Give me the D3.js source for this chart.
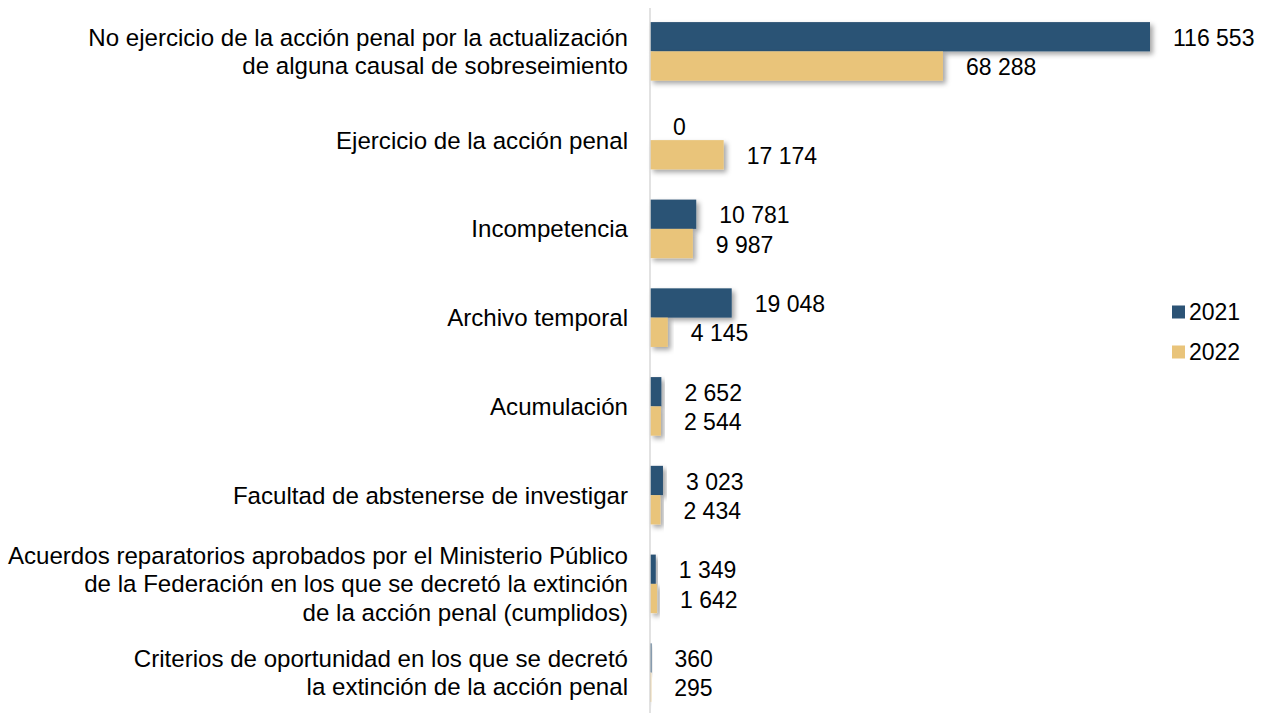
<!DOCTYPE html>
<html>
<head>
<meta charset="utf-8">
<script src="https://cdn.jsdelivr.net/npm/d3@7"></script>
<style>
  body { margin: 0; background: #fff; }
  text { font-family: "Liberation Sans", Arial, sans-serif; fill: #000; }
</style>
</head>
<body>
<div id="chart"></div>
<script>
var categories = [
    ["No ejercicio de la acción penal por la actualización", "de alguna causal de sobreseimiento"],
    ["Ejercicio de la acción penal"],
    ["Incompetencia"],
    ["Archivo temporal"],
    ["Acumulación"],
    ["Facultad de abstenerse de investigar"],
    ["Acuerdos reparatorios aprobados por el Ministerio Público", "de la Federación en los que se decretó la extinción", "de la acción penal (cumplidos)"],
    ["Criterios de oportunidad en los que se decretó", "la extinción de la acción penal"]
];
var series_names = ["2021", "2022"];
var values_2021 = [116553, 0, 10781, 19048, 2652, 3023, 1349, 360];
var values_2022 = [68288, 17174, 9987, 4145, 2544, 2434, 1642, 295];
var colors = ["#2C5375", "#E9C47A"];

function draw_chart() {
    const W = 1264, H = 713;
    const X0 = 650;
    const CAT_FONT = 24.1;
    const VAL_FONT = 23;

    var svg = d3.select("#chart").append("svg")
        .attr("width", W)
        .attr("height", H);

    var defs = svg.append("defs");
    defs.append("filter")
        .attr("id", "shadow")
        .attr("x", "-20%").attr("y", "-20%")
        .attr("width", "150%").attr("height", "160%")
        .append("feDropShadow")
        .attr("dx", 3).attr("dy", 3)
        .attr("stdDeviation", 2.5)
        .attr("flood-color", "#000")
        .attr("flood-opacity", 0.35);

    var y = d3.scaleBand()
        .domain(d3.range(categories.length))
        .range([7, 717])
        .paddingInner(0.34)
        .paddingOuter(0.17);

    var y_inner = d3.scaleBand()
        .domain([0, 1])
        .range([0, y.bandwidth()]);

    var x = d3.scaleLinear()
        .domain([0, 116553])
        .range([X0, 1150]);

    var fmt = function (v) { return d3.format(",")(v).replace(/,/g, " "); };

    var rows = categories.map(function (c, i) {
        return { i: i, label: c, vals: [values_2021[i], values_2022[i]] };
    });

    var group = svg.selectAll("g.cat")
        .data(rows)
        .enter()
        .append("g")
        .attr("class", "cat")
        .attr("transform", function (d) { return "translate(0," + y(d.i) + ")"; });

    group.selectAll("rect")
        .data(function (d) { return d.vals.map(function (v, s) { return { v: v, s: s }; }); })
        .enter()
        .append("rect")
        .attr("x", x(0))
        .attr("y", function (d) { return y_inner(d.s); })
        .attr("width", function (d) { return x(d.v) - x(0); })
        .attr("height", y_inner.bandwidth())
        .attr("fill", function (d) { return colors[d.s]; })
        .attr("filter", "url(#shadow)");

    group.selectAll("text.val")
        .data(function (d) { return d.vals.map(function (v, s) { return { v: v, s: s }; }); })
        .enter()
        .append("text")
        .attr("class", "val")
        .attr("x", function (d) { return x(d.v) + 23; })
        .attr("y", function (d) { return y_inner(d.s) + y_inner.bandwidth() / 2 + 1; })
        .attr("dy", "0.35em")
        .attr("font-size", VAL_FONT)
        .text(function (d) { return fmt(d.v); });

    // category labels
    const LINE_H = 28.5;
    group.append("text")
        .attr("class", "cat-label")
        .attr("text-anchor", "end")
        .attr("font-size", CAT_FONT)
        .each(function (d) {
            var t = d3.select(this);
            var n = d.label.length;
            d.label.forEach(function (line, k) {
                t.append("tspan")
                    .attr("x", 628)
                    .attr("y", y.bandwidth() / 2 + (k - (n - 1) / 2) * LINE_H)
                    .attr("dy", "0.35em")
                    .text(line);
            });
        });

    // axis line
    svg.append("line")
        .attr("x1", X0).attr("x2", X0)
        .attr("y1", 8).attr("y2", H)
        .attr("stroke", "#D9D9D9")
        .attr("stroke-width", 1.5);

    // legend
    var legend = svg.selectAll("g.legend")
        .data(series_names)
        .enter()
        .append("g")
        .attr("class", "legend")
        .attr("transform", function (d, i) { return "translate(1172," + (312 + i * 40) + ")"; });

    legend.append("rect")
        .attr("x", 0).attr("y", -6.5)
        .attr("width", 13).attr("height", 13)
        .attr("fill", function (d, i) { return colors[i]; });

    legend.append("text")
        .attr("x", 17)
        .attr("y", 0)
        .attr("dy", "0.35em")
        .attr("font-size", VAL_FONT)
        .text(function (d) { return d; });
}

draw_chart();
</script>
</body>
</html>
